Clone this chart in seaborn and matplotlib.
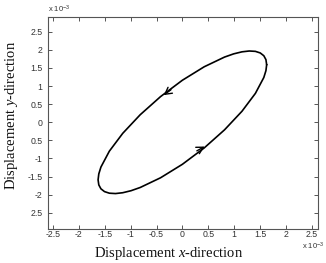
import numpy as np
import pandas as pd
import matplotlib
matplotlib.use("Agg")
import matplotlib.pyplot as plt
import seaborn as sns

# Trajectory (units of 1e-3), counter-clockwise
x_vals = [1.63, 1.616, 1.575, 1.506, 1.412, 1.293, 1.153, 0.992, 0.815, 0.422, 0.0,
          -0.422, -0.815, -1.153, -1.412, -1.575, -1.616, -1.63, -1.616, -1.575,
          -1.506, -1.412, -1.293, -1.153, -0.992, -0.815, -0.422, 0.0, 0.422, 0.815,
          1.153, 1.412, 1.575, 1.616, 1.63]
y_vals = [1.59, 1.730, 1.838, 1.915, 1.959, 1.969, 1.946, 1.890, 1.801, 1.533, 1.161,
          0.709, 0.209, -0.305, -0.798, -1.237, -1.426, -1.59, -1.730, -1.838,
          -1.915, -1.959, -1.969, -1.946, -1.890, -1.801, -1.533, -1.161, -0.709, -0.209,
          0.305, 0.798, 1.237, 1.426, 1.59]

# Direction arrows: (tail, head) positions
arrow_tails = [(-0.22, 0.90), (0.28, -0.79)]
arrow_heads = [(-0.36, 0.75), (0.43, -0.67)]

x_ticks = [-2.5, -2, -1.5, -1, -0.5, 0, 0.5, 1, 1.5, 2, 2.5]
x_ticklabels = ["-2.5", "-2", "-1.5", "-1", "-0.5", "0", "0.5", "1", "1.5", "2", "2.5"]
y_ticks = [2.5, 2, 1.5, 1, 0.5, 0, -0.5, -1, -1.5, -2, -2.5]
y_ticklabels = ["2.5", "2", "1.5", "1", "0.5", "0", "0.5", "-1", "-1.5", "-2", "2.5"]

df = pd.DataFrame({"x": x_vals, "y": y_vals})

sns.set_theme(style="white")
plt.rcParams["font.family"] = ["Liberation Sans", "DejaVu Sans"]
plt.rcParams["mathtext.fontset"] = "custom"
plt.rcParams["mathtext.rm"] = "Liberation Serif"
plt.rcParams["mathtext.it"] = "Liberation Serif:italic"

fig = plt.figure(figsize=(3.26, 2.63), dpi=100)
ax = fig.add_axes([0.147, 0.129, 0.828, 0.808])

sns.lineplot(data=df, x="x", y="y", sort=False, estimator=None, color="black",
             linewidth=1.2, ax=ax)

for (tx, ty), (hx, hy) in zip(arrow_tails, arrow_heads):
    ax.annotate("", xy=(hx, hy), xytext=(tx, ty),
                arrowprops=dict(arrowstyle="->,head_length=0.4,head_width=0.22",
                                color="black", lw=1.0, shrinkA=0, shrinkB=0))

ax.set_xlim(-2.6, 2.62)
ax.set_ylim(-2.95, 2.92)
ax.set_xticks(x_ticks)
ax.set_xticklabels(x_ticklabels)
ax.set_yticks(y_ticks)
ax.set_yticklabels(y_ticklabels)

axis_col = "#555555"
for s in ax.spines.values():
    s.set_color(axis_col)
    s.set_linewidth(0.8)
ax.tick_params(axis="both", direction="in", length=3, width=0.7, color=axis_col,
               labelsize=6.3, labelcolor="#333333", top=True, right=True,
               bottom=True, left=True)
ax.tick_params(axis="x", pad=1.0)
ax.tick_params(axis="y", pad=4)

serif = ["Liberation Serif", "DejaVu Serif"]
ax.set_xlabel("Displacement $x$-direction", fontsize=10.5, family=serif, color="#111111")
ax.set_ylabel("Displacement $y$-direction", fontsize=10.5, family=serif, color="#111111")
ax.xaxis.set_label_coords(0.448, -0.075)
ax.yaxis.set_label_coords(-0.105, 0.533)

fig.text(0.147, 0.963, r"x 10$\mathregular{^{-3}}$", fontsize=5.5, color="#333333",
         ha="left", va="center")
fig.text(0.925, 0.064, r"x 10$\mathregular{^{-3}}$", fontsize=5.5, color="#333333",
         ha="left", va="center")

fig.savefig("out.png", dpi=100)
